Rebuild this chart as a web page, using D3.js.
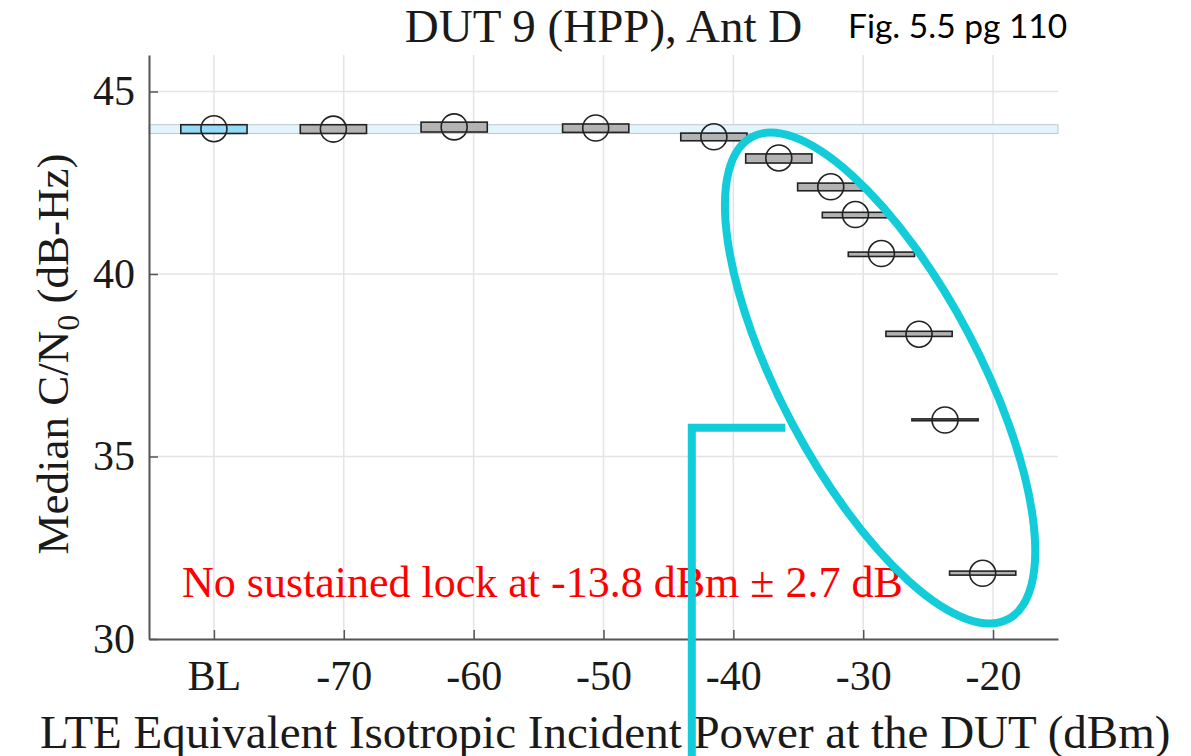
<!DOCTYPE html>
<html>
<head>
<meta charset="utf-8">
<script src="https://cdn.jsdelivr.net/npm/d3@7"></script>
<style>
  body { margin: 0; background: #fff; }
  svg { display: block; }
</style>
</head>
<body>
<svg id="chart" width="1191" height="756"></svg>
<script>
// EIIP of each test level (BL is plotted at -80)
const eiip = [-80, -70.8, -61.5, -50.6, -41.5, -36.5, -32.5, -30.6, -28.6, -25.7, -23.7, -20.8];
const medianCN0 = [43.98, 43.97, 44.03, 44.0, 43.76, 43.18, 42.39, 41.63, 40.56, 38.35, 36.0, 31.8];
const boxLow = [43.85, 43.85, 43.89, 43.88, 43.65, 43.04, 42.28, 41.54, 40.48, 38.29, 35.98, 31.75];
const boxHigh = [44.09, 44.09, 44.16, 44.11, 43.86, 43.29, 42.49, 41.69, 40.6, 38.43, 36.03, 31.86];
const eiipHalfWidth = 2.55;

const xTickValues = [-80, -70, -60, -50, -40, -30, -20];
const xTickLabels = ["BL", "-70", "-60", "-50", "-40", "-30", "-20"];
const yTickValues = [30, 35, 40, 45];

const serif = "Liberation Serif, Times New Roman, serif";
const svg = d3.select("#chart");

const x = d3.scaleLinear().domain([-85, -15]).range([149, 1058]);
const y = d3.scaleLinear().domain([30, 46]).range([639, 55]);

const points = eiip.map((e, i) => ({
  eiip: e, med: medianCN0[i], lo: boxLow[i], hi: boxHigh[i], baseline: i === 0
}));

// grid
svg.append("g").selectAll("line.vg")
  .data(xTickValues)
  .enter().append("line")
    .attr("x1", d => x(d)).attr("x2", d => x(d))
    .attr("y1", y(46)).attr("y2", y(30))
    .style("stroke", "#e4e4e4").style("stroke-width", 1.5);
svg.append("g").selectAll("line.hg")
  .data(yTickValues.slice(1))
  .enter().append("line")
    .attr("x1", x(-85)).attr("x2", x(-15))
    .attr("y1", d => y(d)).attr("y2", d => y(d))
    .style("stroke", "#e4e4e4").style("stroke-width", 1.5);

// baseline band
svg.append("rect")
  .attr("x", x(-85))
  .attr("y", y(boxHigh[0]))
  .attr("width", x(-15) - x(-85))
  .attr("height", y(boxLow[0]) - y(boxHigh[0]))
  .style("fill", "#e2f5fc")
  .style("stroke", "#bcc8d0")
  .style("stroke-width", 1);

// boxes
svg.append("g").selectAll("rect")
  .data(points)
  .enter().append("rect")
    .attr("x", d => x(d.eiip - eiipHalfWidth))
    .attr("y", d => y(d.hi))
    .attr("width", d => x(d.eiip + eiipHalfWidth) - x(d.eiip - eiipHalfWidth))
    .attr("height", d => Math.max(y(d.lo) - y(d.hi), 1))
    .style("fill", d => d.baseline ? "#94dbf7" : "#b3b3b3")
    .style("stroke", "#222")
    .style("stroke-width", 1.6);

// median markers
svg.append("g").selectAll("circle")
  .data(points)
  .enter().append("circle")
    .attr("cx", d => x(d.eiip))
    .attr("cy", d => y(d.med))
    .attr("r", 13)
    .style("fill", "none")
    .style("stroke", "#222")
    .style("stroke-width", 1.6);

// axes
const xAxis = svg.append("g")
  .attr("transform", "translate(0," + y(30) + ")")
  .call(d3.axisBottom(x).tickValues(xTickValues)
    .tickFormat((d, i) => xTickLabels[i])
    .tickSizeInner(-9).tickSizeOuter(0).tickPadding(21));
const yAxis = svg.append("g")
  .attr("transform", "translate(" + x(-85) + ",0)")
  .call(d3.axisLeft(y).tickValues(yTickValues)
    .tickSizeInner(-9).tickSizeOuter(0).tickPadding(14));
[xAxis, yAxis].forEach(g => {
  g.select(".domain").style("stroke", "#555").style("stroke-width", 2);
  g.selectAll(".tick line").style("stroke", "#555").style("stroke-width", 1.5);
  g.selectAll("text")
    .style("font-family", serif)
    .style("font-size", "42px")
    .style("fill", "#1a1a1a");
});

// titles
svg.append("text")
  .attr("x", (x(-85) + x(-15)) / 2)
  .attr("y", 42)
  .text("DUT 9 (HPP), Ant D")
  .style("text-anchor", "middle")
  .style("font-family", serif)
  .style("font-size", "47px")
  .style("fill", "#1a1a1a");

svg.append("text")
  .attr("x", 848)
  .attr("y", 38)
  .text("Fig. 5.5 pg 110")
  .style("text-anchor", "start")
  .style("font-family", "Lato, Noto Sans, sans-serif")
  .style("font-size", "33.5px")
  .style("fill", "#000");

svg.append("text")
  .attr("x", 40)
  .attr("y", 748)
  .text("LTE Equivalent Isotropic Incident Power at the DUT (dBm)")
  .style("text-anchor", "start")
  .style("font-family", serif)
  .style("font-size", "47px")
  .style("fill", "#1a1a1a");

const yLabel = svg.append("text")
  .attr("transform", "translate(68," + 354 + ") rotate(-90)")
  .style("text-anchor", "middle")
  .style("font-family", serif)
  .style("font-size", "45px")
  .style("fill", "#1a1a1a");
yLabel.append("tspan").text("Median C/N");
yLabel.append("tspan").attr("dy", 11).style("font-size", "32px").text("0");
yLabel.append("tspan").attr("dy", -11).text(" (dB-Hz)");

// note
svg.append("text")
  .attr("x", 182)
  .attr("y", 597)
  .text("No sustained lock at -13.8 dBm \u00b1 2.7 dB")
  .style("text-anchor", "start")
  .style("font-family", serif)
  .style("font-size", "44px")
  .style("fill", "#ff0000");

// cyan highlight
const cyan = "#12cdd9";
const ellX = -28.7, ellY = 37.15;
svg.append("ellipse")
  .attr("cx", x(ellX))
  .attr("cy", y(ellY))
  .attr("rx", 99)
  .attr("ry", 273)
  .attr("transform", "rotate(-28," + x(ellX) + "," + y(ellY) + ")")
  .style("fill", "none")
  .style("stroke", cyan)
  .style("stroke-width", 8);

svg.append("path")
  .attr("d", "M" + x(-36.0) + "," + y(35.79) + "H" + x(-43.2) + "V756")
  .style("fill", "none")
  .style("stroke", cyan)
  .style("stroke-width", 8);
</script>
</body>
</html>
